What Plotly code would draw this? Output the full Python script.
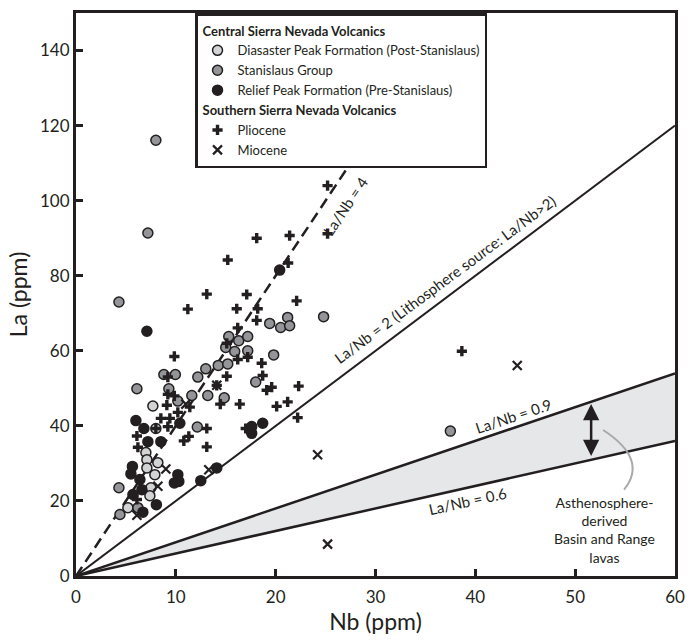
import plotly.graph_objects as go

# ---------------- data ----------------
NB_RANGE = [0, 60]
LA_RANGE = [0, 150]
X_TICKS = [0, 10, 20, 30, 40, 50, 60]
Y_TICKS = [0, 20, 40, 60, 80, 100, 120, 140]

RATIO_4 = 4.0
RATIO_2 = 2.0
RATIO_09 = 0.9
RATIO_06 = 0.6

diasaster_nb = [7.7, 8.0, 7.0, 7.1, 8.2, 7.1, 7.9, 7.5, 7.4, 5.2]
diasaster_la = [45.3, 39.3, 32.9, 31.0, 30.2, 28.8, 27.0, 23.5, 21.4, 18.2]

stanislaus_nb = [8.0, 7.2, 4.3, 8.8, 9.95, 12.2, 13.0, 6.1, 9.3, 11.6, 13.2, 10.2, 12.15,
                 4.3, 6.2, 4.4, 19.4, 21.2, 20.5, 21.4, 24.8, 15.3, 16.3, 17.2, 15.0, 15.9,
                 17.2, 19.8, 14.25, 15.2, 18.0, 14.85, 37.5]
stanislaus_la = [116.1, 91.4, 73.0, 53.7, 53.7, 53.0, 55.2, 49.9, 49.9, 48.1, 48.1, 46.6, 39.7,
                 23.5, 18.2, 16.4, 67.3, 68.9, 66.2, 66.7, 69.1, 63.8, 62.7, 63.8, 60.9, 59.8,
                 60.0, 58.9, 56.1, 56.5, 51.7, 47.5, 38.6]

relief_nb = [7.1, 20.4, 6.0, 6.8, 10.4, 7.2, 8.5, 5.65, 5.5, 10.2, 9.85, 10.3, 12.5, 6.4,
             6.6, 5.7, 8.05, 6.7, 17.6, 18.7, 17.6, 14.1]
relief_la = [65.2, 81.5, 41.4, 39.3, 40.7, 35.8, 35.8, 29.2, 27.2, 27.0, 24.8, 25.2, 25.4, 25.7,
             23.0, 21.7, 19.0, 17.0, 39.8, 40.7, 38.0, 28.8]

pliocene_nb = [11.2, 13.1, 9.85, 9.2, 9.2, 9.85, 9.1, 10.2, 8.5, 9.4, 8.0, 9.2, 13.1, 6.1,
               10.8, 11.3, 6.2, 13.1, 6.1, 25.2, 25.2, 18.1, 21.4, 15.2, 21.25, 17.1, 16.1,
               18.2, 22.1, 18.1, 16.2, 15.1, 16.2, 17.2, 18.6, 18.7, 15.1, 14.1, 19.1, 19.6,
               22.3, 11.4, 14.45, 16.4, 20.1, 21.2, 22.2, 17.0, 38.65]
pliocene_la = [71.1, 75.1, 58.5, 53.0, 48.4, 48.0, 45.5, 43.6, 42.0, 42.0, 39.3, 39.8, 39.3, 37.3,
               36.0, 37.2, 34.3, 34.4, 20.4, 104.0, 91.2, 90.0, 90.7, 84.2, 83.4, 75.0, 71.2,
               71.2, 73.3, 68.1, 66.1, 62.0, 57.7, 58.3, 56.7, 53.4, 53.2, 50.8, 49.5, 50.3,
               50.6, 45.0, 45.8, 45.8, 45.2, 46.4, 42.2, 39.3, 59.9]

miocene_nb = [11.0, 9.0, 13.3, 8.2, 6.1, 14.1, 24.2, 25.2, 44.2]
miocene_la = [45.8, 28.5, 28.3, 23.9, 16.2, 50.8, 32.3, 8.5, 56.1]

# annotation anchors (label positions)
ARROW_NB = 51.6

# ---------------- style ----------------
FONT = "Lato"
INK = "#231f20"
LIGHT = "#d1d3d4"
GRAY = "#939598"
SHADE = "#e6e7e8"

fig = go.Figure()

# ratio lines and shaded field
line_x = NB_RANGE
fig.add_trace(go.Scatter(x=line_x, y=[RATIO_06 * v for v in line_x], mode="lines",
                         line=dict(color=INK, width=2.5), showlegend=False, hoverinfo="skip"))
fig.add_trace(go.Scatter(x=line_x, y=[RATIO_09 * v for v in line_x], mode="lines",
                         line=dict(color=INK, width=2.5), fill="tonexty", fillcolor=SHADE,
                         showlegend=False, hoverinfo="skip"))
fig.add_trace(go.Scatter(x=line_x, y=[RATIO_2 * v for v in line_x], mode="lines",
                         line=dict(color=INK, width=2), showlegend=False, hoverinfo="skip"))
fig.add_trace(go.Scatter(x=line_x, y=[RATIO_4 * v for v in line_x], mode="lines",
                         line=dict(color=INK, width=2.5, dash="11px,6px"),
                         showlegend=False, hoverinfo="skip"))

G1 = "Central Sierra Nevada Volcanics"
G2 = "Southern Sierra Nevada Volcanics"
gt_font = dict(family=FONT, size=13, color=INK, weight="bold")

def circ(nb, la, fill, name):
    return go.Scatter(x=nb, y=la, mode="markers", name=name,
                      legendgroup=G1, legendgrouptitle=dict(text=G1, font=gt_font),
                      marker=dict(symbol="circle", size=10, color=fill,
                                  line=dict(color=INK, width=1.5)))

fig.add_trace(circ(diasaster_nb, diasaster_la, LIGHT, "Diasaster Peak Formation (Post-Stanislaus)"))
fig.add_trace(circ(stanislaus_nb, stanislaus_la, GRAY, "Stanislaus Group"))
fig.add_trace(circ(relief_nb, relief_la, INK, "Relief Peak Formation (Pre-Stanislaus)"))
fig.add_trace(go.Scatter(x=pliocene_nb, y=pliocene_la, mode="markers", name="Pliocene",
                         legendgroup=G2, legendgrouptitle=dict(text=G2, font=gt_font),
                         marker=dict(symbol="cross", size=8.5, color=INK, line=dict(width=0))))
fig.add_trace(go.Scatter(x=miocene_nb, y=miocene_la, mode="markers", name="Miocene",
                         legendgroup=G2, legendgrouptitle=dict(text=G2, font=gt_font),
                         marker=dict(symbol="x-thin", size=9, color=INK,
                                     line=dict(color=INK, width=2.2))))

line_font = dict(family=FONT, size=15, color=INK)
ann_font = dict(family=FONT, size=14, color=INK)
annotations = [
    dict(x=27.0, y=98.5, text="La/Nb = 4", textangle=-56, font=line_font),
    dict(x=37.0, y=79.0, text="La/Nb = 2 (Lithosphere source: La/Nb>2)", textangle=-36.5, font=line_font),
    dict(x=43.8, y=42.6, text="La/Nb = 0.9", textangle=-18.4, font=line_font),
    dict(x=39.2, y=20.1, text="La/Nb = 0.6", textangle=-12.5, font=line_font),
    dict(x=52.9, y=12.2, text="Asthenosphere-<br>derived<br>Basin and Range<br>lavas", font=ann_font),
]
for a in annotations:
    fig.add_annotation(xref="x", yref="y", showarrow=False, **a)

# double arrow between 0.9 and 0.6 lines
fig.add_annotation(xref="x", yref="y", axref="x", ayref="y", text="",
                   x=ARROW_NB, y=RATIO_09 * ARROW_NB - 0.6,
                   ax=ARROW_NB, ay=RATIO_06 * ARROW_NB + 0.6,
                   showarrow=True, arrowside="end+start", arrowhead=2, startarrowhead=2,
                   arrowsize=1.3, startarrowsize=1.3, arrowwidth=2.5, arrowcolor=INK)

# gray leader curve
fig.add_shape(type="path", xref="x", yref="y",
              path="M 52.8,38.9 Q 57.35,31.05 54.9,23.0",
              line=dict(color="#a7a9ac", width=2))

axis_common = dict(showline=True, linecolor=INK, linewidth=3, mirror=True,
                   ticks="inside", ticklen=7, tickwidth=2.5, tickcolor=INK,
                   showgrid=False, zeroline=False,
                   tickfont=dict(family=FONT, size=17, color=INK))

fig.update_xaxes(range=NB_RANGE, tickvals=X_TICKS, ticklabelstandoff=4,
                 title=dict(text="Nb (ppm)", font=dict(family=FONT, size=23, color=INK), standoff=8),
                 **axis_common)
fig.update_yaxes(range=LA_RANGE, tickvals=Y_TICKS,
                 title=dict(text="La (ppm)", font=dict(family=FONT, size=23, color=INK), standoff=6),
                 **axis_common)

fig.update_layout(
    width=694, height=641,
    margin=dict(l=76, r=9, t=13, b=64),
    paper_bgcolor="white", plot_bgcolor="white",
    font=dict(family=FONT, color=INK),
    legend=dict(x=0.1987, y=1.0, xanchor="left", yanchor="top",
                bgcolor="white", bordercolor=INK, borderwidth=2.5,
                font=dict(family=FONT, size=13, color=INK),
                traceorder="grouped", tracegroupgap=0, itemwidth=30),
)

fig.write_html("out.html")
